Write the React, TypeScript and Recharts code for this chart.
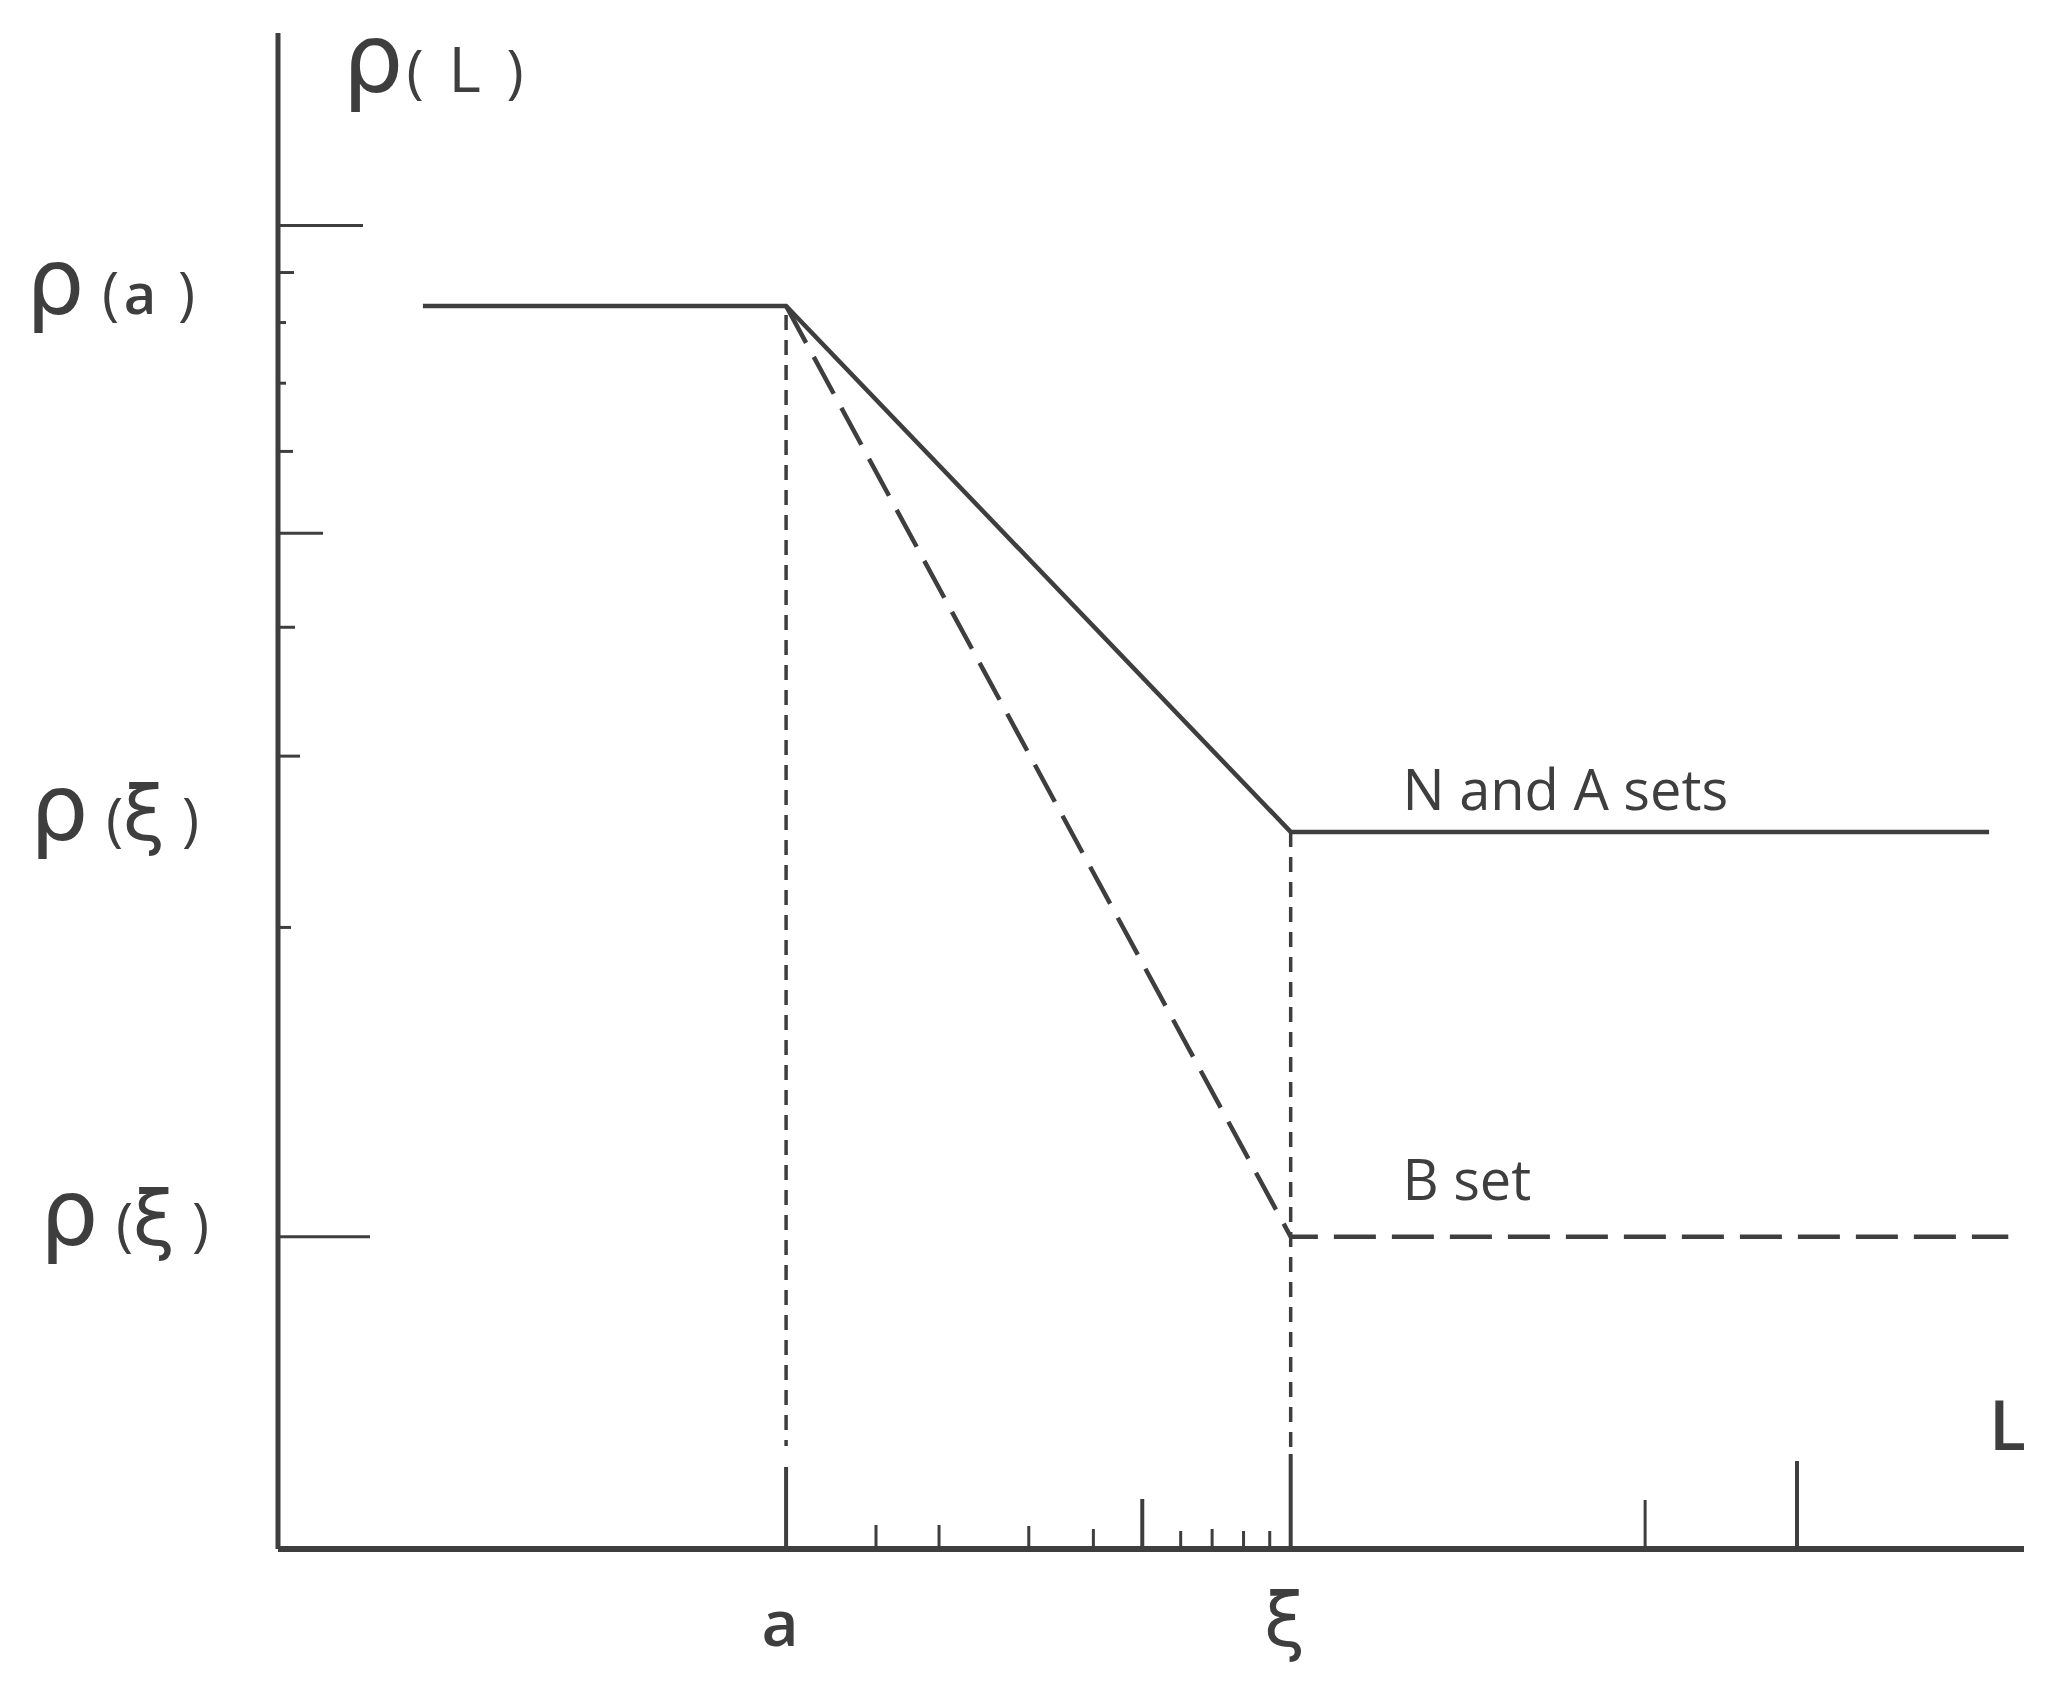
import { LineChart, Line, XAxis, YAxis, ReferenceLine, ReferenceDot } from 'recharts';

// break points (x in arbitrary L units, y in rho units)
const A_X = 29.1;
const XI_X = 58.0;
const RHO_A = 82;
const RHO_XI_NA = 47.3;
const RHO_XI_B = 20.6;

const naSeries = [
  { x: 8.3, y: RHO_A },
  { x: A_X, y: RHO_A },
  { x: XI_X, y: RHO_XI_NA },
  { x: 98.0, y: RHO_XI_NA },
];

const bSeries = [
  { x: A_X, y: RHO_A },
  { x: XI_X, y: RHO_XI_B },
  { x: 99.1, y: RHO_XI_B },
];

// axis tick marks
const xMarkValues = [A_X, 34.25, 37.86, 43.0, 46.7, 49.5, 51.7, 53.5, 55.3, 56.8, XI_X, 78.3, 87.0];
const xLabelValues = [A_X, XI_X];
const xLabelNames = ['a', 'ξ'];

const yMarkValues = [87.3, 84.2, 80.9, 76.9, 72.4, 67.0, 60.8, 52.3, 41.0, RHO_XI_B];
const yLabelValues = [RHO_A, RHO_XI_NA, RHO_XI_B];
const yLabelNames = ['a', 'ξ', 'ξ'];

// tick lengths in px (style)
const X_MARK_LEN = [82, 24, 24, 23, 20, 50, 18, 20, 18, 18, 95, 49, 88];
const Y_MARK_LEN = [85, 16, 8, 8, 15, 45, 17, 22, 13, 92];

const INK = '#3e3e3e';
const SANS = '"Open Sans", "DejaVu Sans", sans-serif';
const GREEK = '"DejaVu Sans", "Open Sans", sans-serif';

const XTick = ({ x, y, payload }: any) => {
  const i = xMarkValues.indexOf(payload.value);
  const li = xLabelValues.indexOf(payload.value);
  const len = i >= 0 ? X_MARK_LEN[i] : 0;
  const heavy = i === 0 || i === 5 || i === 10 || i === 12;
  return (
    <g>
      <line x1={x} y1={y} x2={x} y2={y - len} stroke={INK} strokeWidth={heavy ? 4 : 3} />
      {li >= 0 && (
        <text
          x={x - 6}
          y={y + 97}
          textAnchor="middle"
          fill={INK}
          fontFamily={li === 0 ? SANS : GREEK}
          fontWeight={li === 0 ? 600 : 400}
          fontSize={li === 0 ? 64 : 74}
        >
          {xLabelNames[li]}
        </text>
      )}
    </g>
  );
};

const YTick = ({ x, y, payload }: any) => {
  const i = yMarkValues.indexOf(payload.value);
  const li = yLabelValues.indexOf(payload.value);
  const len = i >= 0 ? Y_MARK_LEN[i] : 0;
  const inner = li >= 0 ? yLabelNames[li] : '';
  const shift = li === 2 ? 14 : li === 1 ? 4 : 0;
  const isA = inner === 'a';
  return (
    <g>
      {len > 0 && <line x1={x} y1={y} x2={x + len} y2={y} stroke={INK} strokeWidth={3} />}
      {li >= 0 && (
        <text y={y + 8} fill={INK}>
          <tspan x={x - 252 + shift} fontFamily={GREEK} fontSize={92}>ρ</tspan>
          <tspan x={x - 176 + shift} fontFamily={SANS} fontSize={58}>(</tspan>
          <tspan
            x={x - 138 + shift}
            textAnchor="middle"
            fontFamily={isA ? SANS : GREEK}
            fontWeight={isA ? 600 : 400}
            fontSize={isA ? 56 : 76}
          >
            {inner}
          </tspan>
          <tspan x={x - 100 + shift} fontFamily={SANS} fontSize={58}>)</tspan>
        </text>
      )}
    </g>
  );
};

const TextAt = (txt: string, size: number, weight = 400) => (props: any) => {
  const { viewBox } = props;
  return (
    <text x={viewBox.x} y={viewBox.y} fill={INK} fontFamily={SANS} fontSize={size} fontWeight={weight}>
      {txt}
    </text>
  );
};

const RhoL = (props: any) => {
  const { viewBox } = props;
  const { x, y } = viewBox;
  return (
    <text y={y} fill={INK}>
      <tspan x={x} fontFamily={GREEK} fontSize={96}>ρ</tspan>
      <tspan x={x + 64} fontFamily={SANS} fontSize={58}>(</tspan>
      <tspan x={x + 106} fontFamily={SANS} fontSize={62}>L</tspan>
      <tspan x={x + 164} fontFamily={SANS} fontSize={58}>)</tspan>
    </text>
  );
};

export default function App() {
  const yTicks = Array.from(new Set([...yMarkValues, ...yLabelValues])).sort((a, b) => a - b);
  return (
    <div style={{ position: 'absolute', left: 0, top: 0, background: '#fff' }}>
      <LineChart width={2059} height={1688} margin={{ top: 33, right: 35, left: 0, bottom: 0 }}>
        <XAxis
          type="number"
          dataKey="x"
          domain={[0, 100]}
          ticks={xMarkValues}
          interval={0}
          tick={<XTick />}
          tickLine={false}
          tickSize={0}
          tickMargin={0}
          height={139}
          axisLine={{ stroke: INK, strokeWidth: 6 }}
        />
        <YAxis
          type="number"
          domain={[0, 100]}
          ticks={yTicks}
          interval={0}
          tick={<YTick />}
          tickLine={false}
          tickSize={0}
          tickMargin={0}
          width={278}
          axisLine={{ stroke: INK, strokeWidth: 5 }}
        />
        <ReferenceLine
          segment={[{ x: A_X, y: RHO_A - 0.6 }, { x: A_X, y: 6.8 }]}
          stroke={INK}
          strokeWidth={3.5}
          strokeDasharray="15 10"
        />
        <ReferenceLine
          segment={[{ x: XI_X, y: RHO_XI_NA }, { x: XI_X, y: 6.4 }]}
          stroke={INK}
          strokeWidth={3.5}
          strokeDasharray="15 10"
        />
        <Line
          data={naSeries}
          dataKey="y"
          type="linear"
          stroke={INK}
          strokeWidth={4.5}
          dot={false}
          isAnimationActive={false}
        />
        <Line
          data={bSeries}
          dataKey="y"
          type="linear"
          stroke={INK}
          strokeWidth={4.5}
          strokeDasharray="42 16"
          dot={false}
          isAnimationActive={false}
        />
        <ReferenceDot x={64.4} y={48.75} r={0} stroke="none" label={{ content: TextAt('N and A sets', 56) }} />
        <ReferenceDot x={64.4} y={23.0} r={0} stroke="none" label={{ content: TextAt('B set', 56) }} />
        <ReferenceDot x={98.0} y={6.5} r={0} stroke="none" label={{ content: TextAt('L', 68, 600) }} />
        <ReferenceDot x={3.7} y={96.1} r={0} stroke="none" label={{ content: RhoL }} />
      </LineChart>
    </div>
  );
}
